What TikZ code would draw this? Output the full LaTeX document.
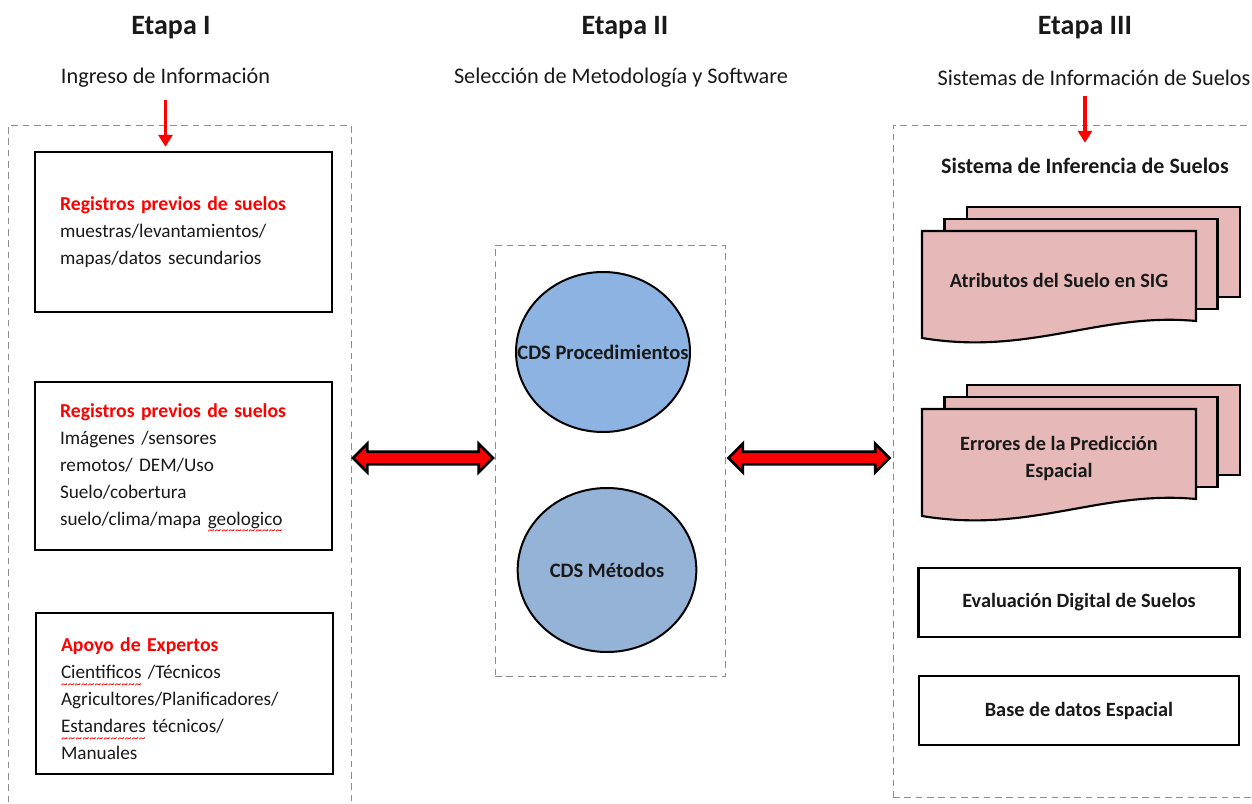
\documentclass[tikz,border=0pt]{standalone}
\usepackage{fontspec}
\setmainfont{Carlito}
\usetikzlibrary{positioning,arrows.meta,shapes.geometric,shapes.arrows,calc}

\definecolor{docpink}{HTML}{E6B9B8}
\definecolor{cdsblue}{HTML}{8DB3E2}
\definecolor{cdsgrey}{HTML}{95B3D7}

% words flagged by the spell checker (red wavy underline)
\newsavebox\spellbox
\newcommand\spell[1]{\leavevmode\sbox\spellbox{#1}%
	\rlap{\raisebox{-7pt}[0pt][0pt]{\color{red}\fontsize{10}{10}\selectfont
		\hbox to\wd\spellbox{\xleaders\hbox{\textasciitilde}\hfill}}}%
	\usebox\spellbox}

% red bold first line of an input box
\newcommand\boxhead[1]{{\bfseries\fontsize{14.8}{20.25}\selectfont\color{red}#1}}

% stacked multi-document sheet, origin = top left of the front sheet
\newcommand\docstack[4]{%
	\begin{scope}[shift={(#1,#2)}]
		\foreach \k in {2,1}
			\draw[docsheet] (\k*22.5,-\k*12) rectangle +(273,90);
		\draw[docsheet] (0,0) -- (274,0) -- (274,90)
			.. controls (178,81) and (108,125) .. (0,107) -- cycle;
		\node[doctext] (#3) at (137,49) {#4};
	\end{scope}}

\tikzset{
	stagebox/.style={draw=black!45,line width=0.6pt,dash pattern=on 5pt off 3.5pt},
	title/.style={font=\bfseries\fontsize{21}{24}\selectfont},
	subtitle/.style={font=\fontsize{16.7}{19}\selectfont},
	inbox/.style={draw,line width=1.8pt,text width=185.25pt,inner xsep=18.75pt,
		align=left,minimum width=222.75pt,font=\fontsize{14.4}{20.25}\selectfont},
	outbox/.style={draw,line width=1.8pt,minimum width=241pt,minimum height=52pt,
		font=\bfseries\fontsize{15.2}{17}\selectfont},
	cds/.style={ellipse,draw,line width=1.5pt,inner sep=0pt,
		font=\bfseries\fontsize{15.4}{18}\selectfont},
	docsheet/.style={draw,fill=docpink,line width=1.6pt,line join=miter},
	doctext/.style={align=center,font=\bfseries\fontsize{15.2}{20.25}\selectfont},
	feed/.style={draw=red,line width=2.4pt,-{Triangle[length=9pt,width=10.5pt]}},
	link/.style={double arrow,draw,fill=red,line width=2pt,inner sep=3.75pt,
		double arrow head extend=6pt,minimum width=19.5pt}
}

\begin{document}
\begin{tikzpicture}[x=0.75pt,y=-0.75pt,text=black!90]

	\useasboundingbox (0,0) rectangle (1252,803);
	\clip (0,0) rectangle (1252,803);

	% Stage headings
	\node[title] (titI) at (171,28) {Etapa I};
	\node[title] (titII) at (625,28) {Etapa II};
	\node[title] (titIII) at (1085,28) {Etapa III};

	\node[subtitle] (subI) at (165.5,78) {Ingreso de Información};
	\node[subtitle] (subII) at (621,78) {Selección de Metodología y Software};
	\node[subtitle] (subIII) at (1094,78) {Sistemas de Información de Suelos};

	% Dashed frames of the three stages
	\node[stagebox,minimum width=257.25pt,minimum height=513pt] (stageI) at (179.5,467.5) {};
	\node[stagebox,minimum width=172.5pt,minimum height=323.25pt] (stageII) at (610,460.5) {};
	\node[stagebox,minimum width=276pt,minimum height=504pt] (stageIII) at (1077,461) {};

	% Stage I: inputs
	\node[inbox,minimum height=120pt] (regA) at (183.5,232) {%
		\boxhead{Registros previos de suelos}\\
		muestras/levantamientos/\\
		mapas/datos secundarios};
	\node[inbox,minimum height=126pt] (regB) at (183.5,466) {%
		\boxhead{Registros previos de suelos}\\
		Imágenes /sensores\\
		remotos/ DEM/Uso\\
		Suelo/cobertura\\
		suelo/clima/mapa \spell{geologico}};
	\node[inbox,minimum height=120.75pt] (expert) at (184.5,693.5) {%
		\rule{0pt}{18.5pt}\boxhead{Apoyo de Expertos}\\
		\spell{Cientificos} /Técnicos\\
		Agricultores/Planificadores/\\
		\spell{Estandares} técnicos/\\
		Manuales};

	% Stage II: methods
	\node[cds,fill=cdsblue,minimum width=130.5pt,minimum height=120pt] (proc) at (603,352)
		{\makebox[0pt]{CDS Procedimientos}};
	\node[cds,fill=cdsgrey,minimum width=134pt,minimum height=123pt] (meth) at (607,570)
		{\makebox[0pt]{CDS Métodos}};

	% Stage III: outputs
	\node[font=\bfseries\fontsize{16.5}{18}\selectfont] (sis) at (1085,166) {Sistema de Inferencia de Suelos};
	\docstack{922}{231}{attr}{Atributos del Suelo en SIG}
	\docstack{922}{409}{err}{Errores de la Predicción\\Espacial}
	\node[outbox] (eval) at (1079,602.5) {Evaluación Digital de Suelos};
	\node[outbox,minimum width=240pt] (base) at (1079,710.5) {Base de datos Espacial};

	% Arrows
	\draw[feed,shorten <=6pt,shorten >=3pt] (subI.south) -- (subI.south |- regA.north);
	\draw[feed,shorten <=4pt,shorten >=8pt] (sis.north |- subIII.south) -- (sis.north);

	\path (stageI.east |- 0,458) -- (stageII.west |- 0,458)
		node[link,midway,minimum height=105pt] (linkA) {};
	\path (stageII.east |- 0,458) -- (stageIII.west |- 0,458)
		node[link,midway,minimum height=120.75pt] (linkB) {};

\end{tikzpicture}
\end{document}
